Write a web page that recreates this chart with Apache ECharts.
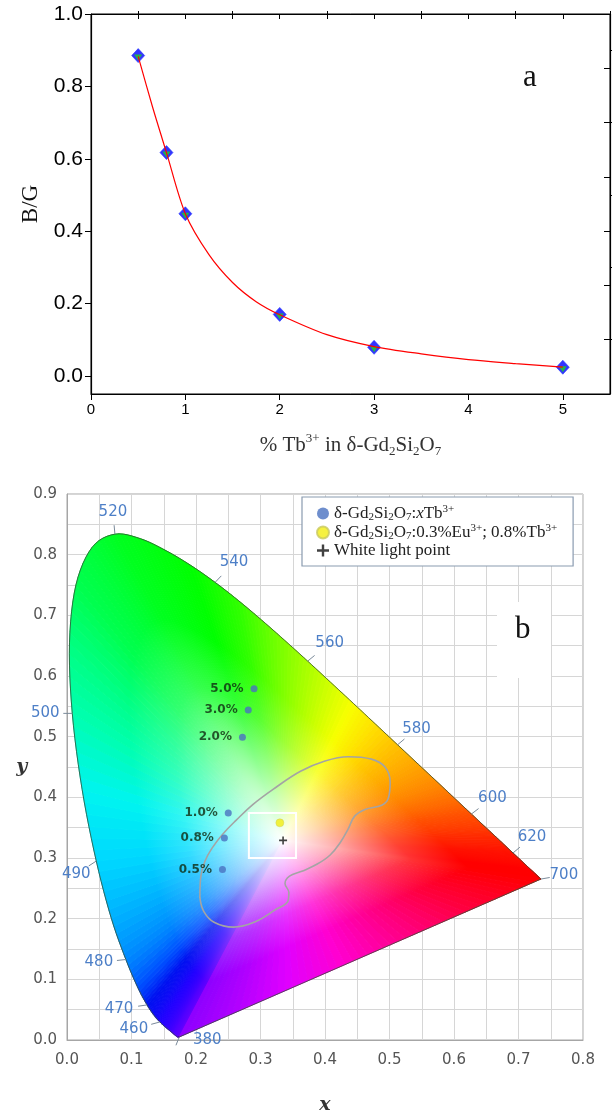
<!DOCTYPE html>
<html><head><meta charset="utf-8">
<script src="https://cdn.jsdelivr.net/npm/echarts@6/dist/echarts.min.js"></script>
<style>html,body{margin:0;padding:0;background:#fff}#c{width:612px;height:1120px}</style>
</head><body><div id="c"></div>
<script>
// ---------- Panel a data ----------
const tbPercent = [0.5, 0.8, 1.0, 2.0, 3.0, 5.0];
const bgRatio   = [0.885, 0.617, 0.448, 0.170, 0.079, 0.024];
// red fitted curve
const fitX = [0.5, 0.65, 0.8, 1.0, 1.25, 1.5, 1.75, 2.0, 2.5, 3.0, 3.5, 4.0, 4.5, 5.0];
const fitY = [0.883, 0.745, 0.617, 0.448, 0.335, 0.258, 0.205, 0.169, 0.114, 0.081, 0.061, 0.045, 0.034, 0.024];
const aXTicks   = [0, 1, 2, 3, 4, 5];
const aXMinor   = [0.5, 1.5, 2.5, 3.5, 4.5, 5.5];
const aXTop     = [0.5, 1, 1.5, 2, 2.5, 3, 3.5, 4, 4.5, 5];
const aYTicks   = [0, 0.2, 0.4, 0.6, 0.8, 1.0];
const aYMinor   = [0.1, 0.3, 0.5, 0.7, 0.9];
const aYRight   = [0.1, 0.25, 0.4, 0.55, 0.7, 0.85];

// ---------- Panel b data ----------
const locusNm = [380,385,390,395,400,405,410,415,420,425,430,435,440,445,450,455,460,465,470,475,480,485,490,495,500,505,510,515,520,525,530,535,540,545,550,555,560,565,570,575,580,585,590,595,600,605,610,615,620,625,630,635,640,645,650,655,660,665,670,675,680,690,700];
const locusX = [0.1741,0.1740,0.1738,0.1736,0.1733,0.1730,0.1726,0.1721,0.1714,0.1703,0.1689,0.1669,0.1644,0.1611,0.1566,0.1510,0.1440,0.1355,0.1241,0.1096,0.0913,0.0687,0.0454,0.0235,0.0082,0.0039,0.0139,0.0389,0.0743,0.1142,0.1547,0.1929,0.2296,0.2658,0.3016,0.3373,0.3731,0.4087,0.4441,0.4788,0.5125,0.5448,0.5752,0.6029,0.6270,0.6482,0.6658,0.6801,0.6915,0.7006,0.7079,0.7140,0.7190,0.7230,0.7260,0.7283,0.7300,0.7311,0.7320,0.7327,0.7334,0.7344,0.7347];
const locusY = [0.0050,0.0050,0.0049,0.0049,0.0048,0.0048,0.0048,0.0048,0.0051,0.0058,0.0069,0.0086,0.0109,0.0138,0.0177,0.0227,0.0297,0.0399,0.0578,0.0868,0.1327,0.2007,0.2950,0.4127,0.5384,0.6548,0.7502,0.8120,0.8338,0.8262,0.8059,0.7816,0.7543,0.7243,0.6923,0.6589,0.6245,0.5896,0.5547,0.5202,0.4866,0.4544,0.4242,0.3965,0.3725,0.3514,0.3340,0.3197,0.3083,0.2993,0.2920,0.2859,0.2809,0.2770,0.2740,0.2717,0.2700,0.2689,0.2680,0.2673,0.2666,0.2656,0.2653];
const waveTickNm = [380,460,470,480,490,500,520,540,560,580,600,620,700];
const tbLabels = ['0.5%','0.8%','1.0%','2.0%','3.0%','5.0%'];
const tbCieX = [0.241,0.244,0.250,0.272,0.281,0.290];
const tbCieY = [0.281,0.333,0.374,0.499,0.544,0.579];
const euTbCie = [0.330, 0.358];
const whitePoint = [0.335, 0.329];
const boxX = [0.282, 0.355];
const boxY = [0.300, 0.374];
const contourX = [0.206,0.207,0.214,0.226,0.242,0.262,0.288,0.322,0.362,0.400,0.436,0.472,0.493,0.501,0.498,0.488,0.462,0.446,0.436,0.424,0.408,0.388,0.364,0.345,0.338,0.344,0.343,0.322,0.290,0.258,0.228,0.212,0.206];
const contourY = [0.235,0.265,0.295,0.318,0.340,0.362,0.388,0.415,0.443,0.460,0.467,0.463,0.450,0.425,0.398,0.387,0.380,0.369,0.348,0.326,0.305,0.290,0.278,0.270,0.258,0.243,0.230,0.214,0.194,0.186,0.194,0.212,0.235];
const legendNames = ['δ-Gd2Si2O7:xTb3+', 'δ-Gd2Si2O7:0.3%Eu3+; 0.8%Tb3+', 'White light point'];

// ---------- styling helpers ----------
const SANS = 'Liberation Sans', SERIF = 'Liberation Serif', DV = 'DejaVu Sans';
const waveAnchors = [[380,'#8c00ff'],[440,'#5000ff'],[460,'#2000ff'],[470,'#0010f0'],[475,'#0050ff'],[480,'#0088ff'],[485,'#00b0ff'],[490,'#00d8ff'],[495,'#00f4f0'],[500,'#00ffb0'],[505,'#00ff80'],[510,'#00ff50'],[520,'#00ff20'],[535,'#00ff00'],[545,'#30ff00'],[555,'#80ff00'],[565,'#d0ff00'],[570,'#f8ff00'],[575,'#ffe000'],[580,'#ffc000'],[590,'#ff8a00'],[600,'#ff5000'],[610,'#ff2800'],[620,'#ff1000'],[640,'#ff0000'],[700,'#ff0000']];
const purpleAnchors = [[0,'#ff0000'],[0.2,'#ff0040'],[0.4,'#ff0090'],[0.55,'#ff00d0'],[0.7,'#e000ff'],[0.85,'#b000ff'],[1,'#8c00ff']];
const waveLabelOffset = {380:[28,3],460:[-26,7],470:[-28,4],480:[-27,3],490:[-20,13],500:[-27,0],520:[-2,-22],540:[19,-20],560:[22,-18],580:[19,-16],600:[21,-16],620:[19,-16],700:[23,-4]};
const tickDirOverride = {380:[-0.4,1]};
const SUB = 6;

function hex2rgb(h){return [parseInt(h.slice(1,3),16),parseInt(h.slice(3,5),16),parseInt(h.slice(5,7),16)];}
function rgbStr(c){return 'rgb('+c.map(v=>Math.round(v)).join(',')+')';}
function mixRgb(a,b,t){return a.map((v,k)=>v+(b[k]-v)*t);}
function anchorColor(anchors,v){
  if(v<=anchors[0][0]) return hex2rgb(anchors[0][1]);
  for(let k=1;k<anchors.length;k++){
    if(v<=anchors[k][0]){const a=anchors[k-1],b=anchors[k];return mixRgb(hex2rgb(a[1]),hex2rgb(b[1]),(v-a[0])/(b[0]-a[0]));}
  }
  return hex2rgb(anchors[anchors.length-1][1]);
}
function fanStops(c){
  const w=[255,255,255];
  return [{offset:0,color:'#ffffff'},{offset:0.2,color:rgbStr(mixRgb(w,c,0.3))},{offset:0.5,color:rgbStr(mixRgb(w,c,0.8))},{offset:0.72,color:rgbStr(c)},{offset:1,color:rgbStr(c)}];
}
function tri(W,P,Q,c){
  const M=[(P[0]+Q[0])/2,(P[1]+Q[1])/2];
  const R=Math.max(1,Math.hypot(M[0]-W[0],M[1]-W[1]));
  const g=new echarts.graphic.RadialGradient(W[0],W[1],R,fanStops(c),true);
  return {type:'polygon',shape:{points:[W,P,Q]},style:{fill:g,stroke:g,lineWidth:1}};
}
// Catmull-Rom drawing of the locus edge between points i and i+1 (pixel space)
function edgePoints(api,i){
  const n=locusX.length, cl=k=>Math.max(0,Math.min(n-1,k));
  const p=[i-1,i,i+1,i+2].map(k=>api.coord([locusX[cl(k)],locusY[cl(k)]]));
  const pts=[];
  for(let s=0;s<=SUB;s++){
    const t=s/SUB,t2=t*t,t3=t2*t;
    pts.push([0,1].map(d=>0.5*(2*p[1][d]+(-p[0][d]+p[2][d])*t+(2*p[0][d]-5*p[1][d]+4*p[2][d]-p[3][d])*t2+(-p[0][d]+3*p[1][d]-3*p[2][d]+p[3][d])*t3)));
  }
  return pts;
}
function fanItem(params,api){
  const i=params.dataIndex, n=locusX.length;
  const W=api.coord(whitePoint);
  const kids=[];
  if(i<n-1){
    const pts=edgePoints(api,i);
    for(let s=0;s<SUB;s++){
      const nm=locusNm[i]+(locusNm[i+1]-locusNm[i])*(s+0.5)/SUB;
      kids.push(tri(W,pts[s],pts[s+1],anchorColor(waveAnchors,nm)));
    }
  } else {
    const A=api.coord([locusX[n-1],locusY[n-1]]),B=api.coord([locusX[0],locusY[0]]);
    const K=48;
    for(let k=0;k<K;k++){
      const t0=k/K,t1=(k+1)/K;
      const P=[A[0]+(B[0]-A[0])*t0,A[1]+(B[1]-A[1])*t0];
      const Q=[A[0]+(B[0]-A[0])*t1,A[1]+(B[1]-A[1])*t1];
      kids.push(tri(W,P,Q,anchorColor(purpleAnchors,(t0+t1)/2)));
    }
  }
  return {type:'group',children:kids};
}
function outlineItem(params,api){
  const i=params.dataIndex, n=locusX.length;
  let pts;
  if(i<n-1) pts=edgePoints(api,i);
  else pts=[api.coord([locusX[n-1],locusY[n-1]]),api.coord([locusX[0],locusY[0]])];
  return {type:'polyline',shape:{points:pts},style:{fill:'none',stroke:'rgba(55,80,55,0.8)',lineWidth:1}};
}
function waveItem(params,api){
  const P=api.coord([api.value(0),api.value(1)]);
  const nm=api.value(2);
  const off=waveLabelOffset[nm];
  let d=tickDirOverride[nm]||off;
  const L=Math.hypot(d[0],d[1]); d=[d[0]/L,d[1]/L];
  return {type:'group',children:[
    {type:'line',shape:{x1:P[0],y1:P[1],x2:P[0]+d[0]*9,y2:P[1]+d[1]*9},style:{stroke:'#7a8a9a',lineWidth:1}},
    {type:'text',x:P[0]+off[0],y:P[1]+off[1],style:{text:String(nm),fill:'#4d7fc7',fontSize:15,fontFamily:DV,align:'center',verticalAlign:'middle'}}
  ]};
}
function boxItem(params,api){
  const A=api.coord([api.value(0),api.value(3)]),B=api.coord([api.value(2),api.value(1)]);
  return {type:'rect',shape:{x:A[0],y:A[1],width:B[0]-A[0],height:B[1]-A[1]},style:{fill:'none',stroke:'#ffffff',lineWidth:2}};
}

const locusData = locusX.map((x,i)=>[x,locusY[i]]);
const waveData = waveTickNm.map(nm=>{const k=locusNm.indexOf(nm);return [locusX[k],locusY[k],nm];});
const contourData = contourX.map((x,i)=>[x,contourY[i]]);
const tbData = tbCieX.map((x,i)=>[x,tbCieY[i]]);
const pointData = tbPercent.map((x,i)=>[x,bgRatio[i]]);
const fitData = fitX.map((x,i)=>[x,fitY[i]]);

const subsup = {
  t:{fontFamily:SERIF,fontSize:17,color:'#222',lineHeight:19,verticalAlign:'middle'},
  i:{fontFamily:SERIF,fontSize:17,color:'#222',lineHeight:19,fontStyle:'italic',verticalAlign:'middle'},
  sub:{fontFamily:SERIF,fontSize:11,color:'#222',lineHeight:12,verticalAlign:'bottom'},
  sup:{fontFamily:SERIF,fontSize:11,color:'#222',lineHeight:12,verticalAlign:'top'}
};
const legendRich = {
  [legendNames[0]]:'{t|δ-Gd}{sub|2}{t|Si}{sub|2}{t|O}{sub|7}{t|:}{i|x}{t|Tb}{sup|3+}',
  [legendNames[1]]:'{t|δ-Gd}{sub|2}{t|Si}{sub|2}{t|O}{sub|7}{t|:0.3%Eu}{sup|3+}{t|; 0.8%Tb}{sup|3+}',
  [legendNames[2]]:'{t|White light point}'
};

const chart = echarts.init(document.getElementById('c'), null, {renderer:'canvas'});
chart.setOption({
  animation:false,
  backgroundColor:'#ffffff',
  grid:[
    {left:91,right:2,top:14,bottom:726,show:true,borderColor:'#000',borderWidth:1,backgroundColor:'transparent'},
    {left:67,right:29,top:494,bottom:80,show:true,borderColor:'#a6a6a6',borderWidth:1,backgroundColor:'transparent'}
  ],
  legend:{
    data:legendNames, orient:'vertical', left:302, top:497, padding:[7,16,7,14], itemGap:0,
    itemWidth:12, itemHeight:12, backgroundColor:'#fff', borderColor:'#8a9bb0', borderWidth:1.2,
    formatter:n=>legendRich[n], textStyle:{rich:subsup}, selectedMode:false
  },
  xAxis:[
    {gridIndex:0,type:'value',min:0,max:5.5,
      axisLine:{onZero:false,lineStyle:{color:'#000',width:1.2}},
      axisTick:{customValues:aXTicks,length:6,lineStyle:{color:'#000'}},
      axisLabel:{customValues:aXTicks,fontSize:15,fontFamily:SANS,color:'#000',margin:8,formatter:v=>String(v)},
      splitLine:{show:false},
      name:'{t|% Tb}{sup|3+}{t| in δ-Gd}{sub|2}{t|Si}{sub|2}{t|O}{sub|7}',nameLocation:'middle',nameGap:38,
      nameTextStyle:{rich:{
        t:{fontFamily:SERIF,fontSize:21,color:'#333',lineHeight:26,verticalAlign:'middle'},
        sup:{fontFamily:SERIF,fontSize:13,color:'#333',lineHeight:14,verticalAlign:'top'},
        sub:{fontFamily:SERIF,fontSize:13,color:'#333',lineHeight:14,verticalAlign:'bottom'}}}},
    {gridIndex:0,type:'value',min:0,max:5.5,axisLine:{show:false,onZero:false},
      axisTick:{customValues:aXMinor,length:3,lineStyle:{color:'#000'}},axisLabel:{show:false},splitLine:{show:false}},
    {gridIndex:1,type:'value',min:0,max:0.8,interval:0.1,
      axisLine:{lineStyle:{color:'#a6a6a6'}},axisTick:{show:false},
      axisLabel:{fontSize:15,fontFamily:DV,color:'#555',margin:13,formatter:v=>v.toFixed(1)},
      splitLine:{show:true,lineStyle:{color:'#d6d6d6'}},
      minorTick:{show:false,splitNumber:2},minorSplitLine:{show:true,lineStyle:{color:'#d6d6d6'}},
      name:'x',nameLocation:'middle',nameGap:56,
      nameTextStyle:{fontFamily:'DejaVu Serif',fontWeight:'bold',fontStyle:'italic',fontSize:19,color:'#333'}},
    {gridIndex:0,type:'value',min:0,max:5.5,position:'top',axisLine:{show:true,onZero:false,lineStyle:{color:'#000',width:1.2}},
      axisTick:{customValues:aXTop,inside:true,length:5,lineStyle:{color:'#000'}},axisLabel:{show:false},splitLine:{show:false}}
  ],
  yAxis:[
    {gridIndex:0,type:'value',min:-0.05,max:1,
      axisLine:{onZero:false,lineStyle:{color:'#000',width:1.2}},
      axisTick:{customValues:aYTicks,length:6,lineStyle:{color:'#000'}},
      axisLabel:{customValues:aYTicks,fontSize:21,fontFamily:SANS,color:'#000',margin:8,formatter:v=>v.toFixed(1)},
      splitLine:{show:false},
      name:'B/G',nameLocation:'middle',nameGap:48,
      nameTextStyle:{fontFamily:SERIF,fontSize:23,color:'#111'}},
    {gridIndex:0,type:'value',min:-0.05,max:1,axisLine:{show:false,onZero:false},
      axisTick:{customValues:aYMinor,length:3,lineStyle:{color:'#000'}},axisLabel:{show:false},splitLine:{show:false}},
    {gridIndex:0,type:'value',min:-0.05,max:1,position:'right',axisLine:{show:true,onZero:false,lineStyle:{color:'#000',width:1.2}},
      axisTick:{customValues:aYRight,inside:true,length:6,lineStyle:{color:'#000'}},axisLabel:{show:false},splitLine:{show:false}},
    {gridIndex:1,type:'value',min:0,max:0.9,interval:0.1,
      axisLine:{lineStyle:{color:'#a6a6a6'}},axisTick:{show:false},
      axisLabel:{fontSize:15,fontFamily:DV,color:'#555',margin:10,formatter:v=>v.toFixed(1)},
      splitLine:{show:true,lineStyle:{color:'#d6d6d6'}},
      minorTick:{show:false,splitNumber:2},minorSplitLine:{show:true,lineStyle:{color:'#d6d6d6'}},
      name:'y',nameLocation:'middle',nameGap:34,nameRotate:0,
      nameTextStyle:{fontFamily:'DejaVu Serif',fontWeight:'bold',fontStyle:'italic',fontSize:19,color:'#333'}}
  ],
  graphic:[
    {type:'text',left:523,top:62,style:{text:'a',fontFamily:SERIF,fontSize:31,fill:'#111'}},
    {type:'rect',left:497,top:602,z:20,shape:{width:54,height:76},style:{fill:'#ffffff'}},
    {type:'text',left:515,top:614,z:21,style:{text:'b',fontFamily:SERIF,fontSize:31,fill:'#111'}}
  ],
  series:[
    // panel a
    {type:'scatter',xAxisIndex:0,yAxisIndex:0,data:pointData,symbol:'diamond',symbolSize:[13,14],
      itemStyle:{color:'#0000ff',borderColor:'#2a3cff',borderWidth:0.8},z:2},
    {type:'scatter',xAxisIndex:0,yAxisIndex:0,data:pointData,symbol:'triangle',symbolRotate:180,symbolSize:[8,6],symbolOffset:[0,2],
      itemStyle:{color:'#1fd41f'},z:3},
    {type:'line',xAxisIndex:0,yAxisIndex:0,data:fitData,smooth:0.3,showSymbol:false,symbol:'none',
      lineStyle:{color:'#ff0000',width:1.2},z:4},
    // panel b
    {type:'custom',xAxisIndex:2,yAxisIndex:3,data:locusData,renderItem:fanItem,clip:false,z:1,silent:true},
    {type:'custom',xAxisIndex:2,yAxisIndex:3,data:locusData,renderItem:outlineItem,clip:false,z:2,silent:true},
    {type:'custom',xAxisIndex:2,yAxisIndex:3,data:waveData,renderItem:waveItem,clip:false,z:3,silent:true},
    {type:'line',xAxisIndex:2,yAxisIndex:3,data:contourData,symbol:'none',smooth:0.4,lineStyle:{color:'#a4a4a4',width:1.6},z:3,silent:true},
    {type:'custom',xAxisIndex:2,yAxisIndex:3,data:[[boxX[0],boxY[0],boxX[1],boxY[1]]],renderItem:boxItem,z:4,silent:true},
    {name:legendNames[0],type:'scatter',xAxisIndex:2,yAxisIndex:3,data:tbData,symbol:'circle',symbolSize:7,
      itemStyle:{color:'#4a72c0'},z:5,
      label:{show:true,position:'left',distance:7,formatter:p=>tbLabels[p.dataIndex],fontFamily:DV,fontWeight:'bold',fontSize:12,color:'#0f2a10'}},
    {name:legendNames[1],type:'scatter',xAxisIndex:2,yAxisIndex:3,data:[euTbCie],symbol:'circle',symbolSize:8,
      itemStyle:{color:'#f2ee10',borderColor:'#c8c860',borderWidth:0.5},z:5},
    {name:legendNames[2],type:'scatter',xAxisIndex:2,yAxisIndex:3,data:[whitePoint],symbol:'path://M4,0H6V4H10V6H6V10H4V6H0V4H4Z',symbolSize:8,
      itemStyle:{color:'#111'},z:5}
  ]
});
</script></body></html>
